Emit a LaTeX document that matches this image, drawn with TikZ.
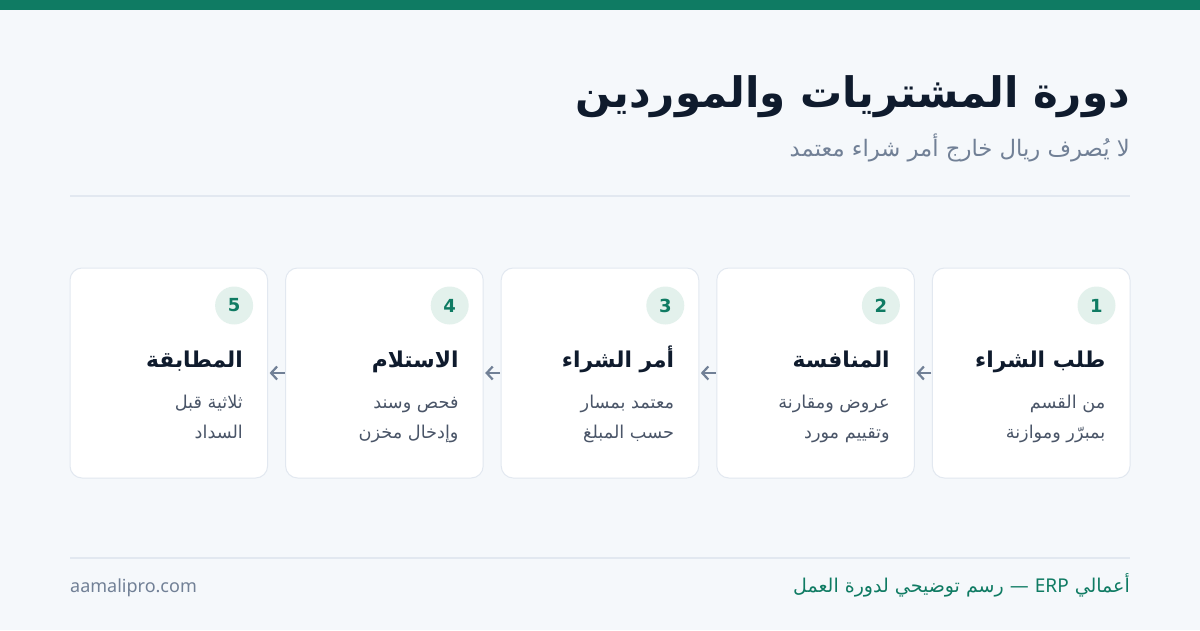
\documentclass[tikz,border=0pt]{standalone}
\usepackage{fontspec}
\usetikzlibrary{arrows.meta,calc}
\setmainfont{Noto Sans}
\newfontfamily\ar[Script=Arabic]{DejaVu Sans}
\newfontfamily\djv{DejaVu Sans}
\TeXXeTstate=1
\definecolor{bgc}{HTML}{F5F8FB}
\definecolor{brand}{HTML}{0F7B63}
\definecolor{navy}{HTML}{0F1B2D}
\definecolor{slate}{HTML}{718096}
\definecolor{bodyc}{HTML}{4A5568}
\definecolor{linec}{HTML}{E2E8F0}
\definecolor{pill}{HTML}{E3F1EC}
\begin{document}
\begin{tikzpicture}[x=1pt,y=-1pt,
  card/.style={draw=linec,line width=1pt,fill=white,rounded corners=12pt,minimum width=197.6pt,minimum height=210pt,inner sep=0pt},
  numc/.style={circle,fill=pill,minimum size=38pt,inner sep=0pt,text=brand,font=\djv\bfseries\fontsize{18}{20}\selectfont},
  ctitle/.style={anchor=base east,inner sep=0pt,text=navy,font=\ar\bfseries\fontsize{21.8}{24}\selectfont},
  cdesc/.style={anchor=base east,inner sep=0pt,text=bodyc,font=\ar\fontsize{17.7}{20}\selectfont},
  arr/.style={draw=slate,line width=2.2pt,-{Straight Barb[length=6pt,width=13pt]},shorten >=1.5pt,shorten <=0.5pt}
]
\fill[bgc] (0,0) rectangle (1200,630);
\useasboundingbox (0,0) rectangle (1200,630);
\fill[brand] (0,0) rectangle (1200,10);

\node[anchor=base east,inner sep=0pt,text=navy,font=\ar\bfseries\fontsize{42}{48}\selectfont] (title) at (1130,107) {\beginR دورة المشتريات والموردين\endR};
\node[anchor=base east,inner sep=0pt,text=slate,font=\ar\fontsize{22.7}{26}\selectfont] (sub) at (1130,156) {\beginR لا يُصرف ريال خارج أمر شراء معتمد\endR};
\draw[linec,line width=1.2pt] (70,196) -- (1130,196);

% cards
\foreach \i/\cx/\n/\t/\da/\db in {
  1/1031.2/1/طلب الشراء/من القسم/بمبرّر وموازنة,
  2/815.6/2/المنافسة/عروض ومقارنة/وتقييم مورد,
  3/600.0/3/أمر الشراء/معتمد بمسار/حسب المبلغ,
  4/384.4/4/الاستلام/فحص وسند/وإدخال مخزن,
  5/168.8/5/المطابقة/ثلاثية قبل/السداد}{
  \node[card] (c\i) at (\cx,373) {};
  \node[numc] (n\i) at ($(c\i.north east)+(-34,38)$) {\n};
  \node[ctitle] (t\i) at ($(c\i.north east)+(-25,100)$) {\beginR\t\endR};
  \node[cdesc] (a\i) at ($(c\i.north east)+(-25,141)$) {\beginR\da\endR};
  \node[cdesc] (b\i) at ($(c\i.north east)+(-25,171)$) {\beginR\db\endR};
}
\foreach \i/\j in {1/2,2/3,3/4,4/5}{
  \draw[arr] (c\i.west) -- (c\j.east);
}

\draw[linec,line width=1.2pt] (70,558) -- (1130,558);
\node[anchor=base west,inner sep=0pt,text=slate,font=\fontsize{18}{21}\selectfont] (site) at (70,592) {aamalipro.com};
\node[anchor=base east,inner sep=0pt,text=brand,font=\ar\fontsize{19}{22}\selectfont] (foot) at (1130,592) {\beginR أعمالي \beginL{\fontspec{Noto Sans}ERP}\endL{} — رسم توضيحي لدورة العمل\endR};
\end{tikzpicture}
\end{document}
